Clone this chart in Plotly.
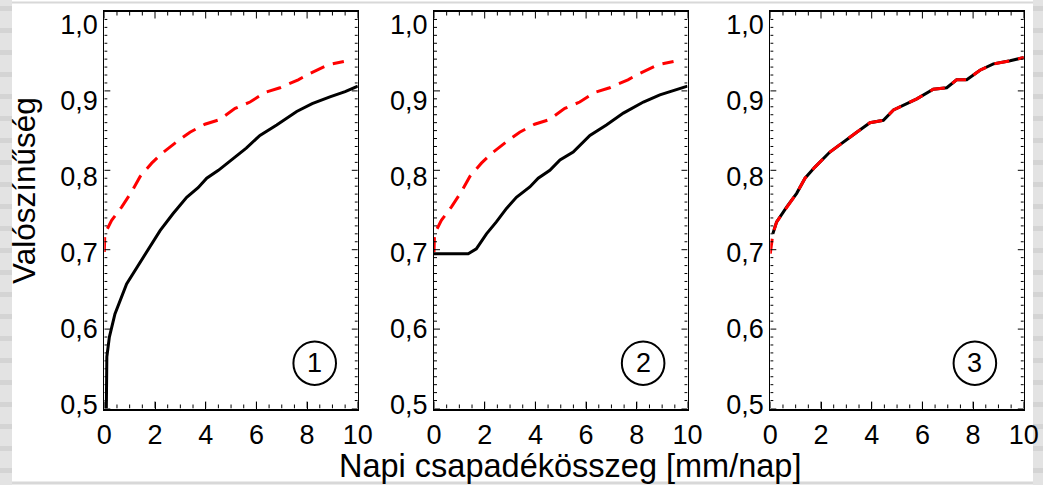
import plotly.graph_objects as go

# ---------------- data ----------------
panel_labels = ["1", "2", "3"]
y_tick_values = [0.5, 0.6, 0.7, 0.8, 0.9, 1.0]

# panel 1 - black solid
x1_black = [0.08, 0.1, 0.2, 0.42, 0.88, 1.54, 2.2, 2.7, 3.25, 3.7, 4.04, 4.5, 5.09, 5.6,
            6.14, 6.8, 7.59, 8.2, 8.9, 9.5, 10.0]
y1_black = [0.50, 0.565, 0.59, 0.619, 0.657, 0.691, 0.724, 0.745, 0.766, 0.778, 0.79, 0.80,
            0.815, 0.828, 0.844, 0.857, 0.874, 0.884, 0.8925, 0.899, 0.906]

# panels 1 & 2 - red dashed
x_red = [0.0, 0.02, 0.29, 0.69, 1.08, 1.41, 1.87, 2.26, 2.86, 3.38, 3.97, 4.56, 5.16, 5.75,
         6.34, 6.93, 7.65, 8.11, 8.84, 9.45]
y_red = [0.697, 0.72, 0.737, 0.754, 0.773, 0.792, 0.809, 0.821, 0.836, 0.848, 0.858, 0.864,
         0.878, 0.886, 0.898, 0.904, 0.914, 0.922, 0.933, 0.937]

# panel 2 - black solid
x2_black = [0.0, 1.35, 1.67, 2.07, 2.46, 2.86, 3.25, 3.78, 4.11, 4.57, 4.97, 5.49, 6.15, 6.8,
            7.47, 8.26, 8.91, 10.0]
y2_black = [0.695, 0.695, 0.701, 0.72, 0.735, 0.752, 0.766, 0.779, 0.79, 0.80, 0.813, 0.823,
            0.844, 0.857, 0.872, 0.886, 0.895, 0.906]

# panel 3 - black solid and red dashed (overlapping)
x3_black = [0.1, 0.25, 0.65, 1.04, 1.37, 1.76, 2.35, 2.88, 3.41, 3.93, 4.46, 4.86, 5.78, 6.43,
            6.96, 7.35, 7.75, 8.27, 8.8, 9.46, 10.0]
y3_black = [0.72, 0.735, 0.754, 0.771, 0.79, 0.804, 0.823, 0.836, 0.848, 0.86, 0.863, 0.876,
            0.89, 0.902, 0.904, 0.914, 0.914, 0.926, 0.934, 0.938, 0.942]
x3_red = [0.0] + x3_black
y3_red = [0.695] + y3_black

circle_x = [8.3, 8.25, 8.07]
circle_y = [0.557, 0.557, 0.557]

x_title = "Napi csapadékösszeg [mm/nap]"
y_title = "Valószínűség"

# ---------------- figure ----------------
W, H = 1043, 485
FONT = "Liberation Sans, Arial, sans-serif"
TICKFONT = dict(family=FONT, size=27, color="black")

fig = go.Figure()

black_line = dict(color="black", width=3)
red_line = dict(color="#ff0000", width=3, dash="15px,9px")

series = [
    (x1_black, y1_black, black_line, 0), (x_red, y_red, red_line, 0),
    (x2_black, y2_black, black_line, 1), (x_red, y_red, red_line, 1),
    (x3_black, y3_black, black_line, 2), (x3_red, y3_red, red_line, 2),
]
for xs, ys, ln, p in series:
    sfx = "" if p == 0 else str(p + 1)
    fig.add_trace(go.Scatter(x=xs, y=ys, mode="lines", line=ln,
                             xaxis="x" + sfx, yaxis="y" + sfx, showlegend=False))

x_domains_px = [(104.3, 357.8), (434.0, 687.5), (770.3, 1023.8)]
y_domain = [(H - 408.5) / H, (H - 11.5) / H]
X_RANGE = [0, 10]
Y_RANGE = [0.5, 1.0]
# the y tick labels of the original sit slightly off their ticks
LABEL_LO, LABEL_HI = 0.5044, 0.983
label_pos = [LABEL_LO + (v - Y_RANGE[0]) * (LABEL_HI - LABEL_LO) / (Y_RANGE[1] - Y_RANGE[0])
             for v in y_tick_values]
label_txt = [("%.1f" % v).replace(".", ",") for v in y_tick_values]

layout = dict(
    template="none",
    width=W, height=H,
    margin=dict(l=0, r=0, t=0, b=0, pad=0),
    paper_bgcolor="white", plot_bgcolor="rgba(0,0,0,0)",
    separators=",.",
    font=dict(family=FONT, size=26, color="black"),
    showlegend=False,
)

for i, (a, b) in enumerate(x_domains_px):
    sfx = "" if i == 0 else str(i + 1)
    layout["xaxis" + sfx] = dict(
        domain=[a / W, b / W], range=X_RANGE, anchor="y" + sfx,
        tickmode="linear", tick0=0, dtick=2,
        ticks="inside", ticklen=7, tickwidth=1, tickcolor="black",
        showline=True, linecolor="black", linewidth=1.5, mirror=True,
        showgrid=False, zeroline=False, fixedrange=True, automargin=False,
        ticklabeloverflow="allow", layer="above traces",
        tickfont=TICKFONT, ticklabelstandoff=1,
    )
    layout["yaxis" + sfx] = dict(
        domain=y_domain, range=Y_RANGE, anchor="x" + sfx,
        tickmode="array", tickvals=label_pos, ticktext=label_txt, ticks="",
        showline=True, linecolor="black", linewidth=1, mirror=True,
        showgrid=False, zeroline=False, fixedrange=True, automargin=False,
        ticklabeloverflow="allow", layer="above traces",
        tickfont=TICKFONT, ticklabelstandoff=0,
    )

fig.update_layout(**layout)

shapes = []
annotations = []

# inward-pointing tick marks on all four sides of each panel
x_tick_pos = [X_RANGE[0] + k * 0.5 for k in range(21)]
y_tick_pos = [Y_RANGE[0] + k * 0.01 for k in range(51)]
tick_line = dict(color="black", width=1)
for i in range(3):
    sfx = "" if i == 0 else str(i + 1)
    for k, v in enumerate(x_tick_pos):
        L = 7 if k % 4 == 0 else 4
        for anchor, sign in [(Y_RANGE[0], 1), (Y_RANGE[1], -1)]:
            shapes.append(dict(type="line", xref="x" + sfx, yref="y" + sfx,
                               x0=v, x1=v, ysizemode="pixel", yanchor=anchor,
                               y0=0, y1=sign * L, line=tick_line))
    for k, v in enumerate(y_tick_pos):
        L = 6 if k % 10 == 0 else 3
        for anchor, sign in [(X_RANGE[0], 1), (X_RANGE[1], -1)]:
            shapes.append(dict(type="line", xref="x" + sfx, yref="y" + sfx,
                               y0=v, y1=v, xsizemode="pixel", xanchor=anchor,
                               x0=0, x1=sign * L, line=tick_line))

rx, ry = 0.84, 0.0273
for i, lab in enumerate(panel_labels):
    sfx = "" if i == 0 else str(i + 1)
    cx, cy = circle_x[i], circle_y[i]
    shapes.append(dict(type="circle", xref="x" + sfx, yref="y" + sfx,
                       x0=cx - rx, x1=cx + rx, y0=cy - ry, y1=cy + ry,
                       line=dict(color="black", width=2)))
    annotations.append(dict(x=cx, y=cy, xref="x" + sfx, yref="y" + sfx, text=lab,
                            showarrow=False, font=dict(family=FONT, size=27, color="black"),
                            xanchor="center", yanchor="middle"))

# background decoration (page frame)
shapes.append(dict(type="rect", xref="paper", yref="paper", x0=0, x1=12 / W, y0=0, y1=1,
                   fillcolor="#e3e3e3", line=dict(width=0), layer="below"))
shapes.append(dict(type="rect", xref="paper", yref="paper", x0=1033 / W, x1=1, y0=0, y1=1,
                   fillcolor="#e3e3e3", line=dict(width=0), layer="below"))
yy = 6
while yy < H:
    for (xa_, xb_) in [(0, 12), (1033, W)]:
        shapes.append(dict(type="rect", xref="paper", yref="paper",
                           x0=xa_ / W, x1=xb_ / W, y0=1 - (yy + 5) / H, y1=1 - yy / H,
                           fillcolor="#d4d4d4", line=dict(width=0), layer="below"))
    yy += 22
shapes.append(dict(type="line", xref="paper", yref="paper", x0=12 / W, x1=1033 / W,
                   y0=1 - 2.5 / H, y1=1 - 2.5 / H, line=dict(color="#d8d8d8", width=2),
                   layer="below"))
shapes.append(dict(type="line", xref="paper", yref="paper", x0=12 / W, x1=1033 / W,
                   y0=1 - 483 / H, y1=1 - 483 / H, line=dict(color="#d8d8d8", width=3),
                   layer="below"))

annotations.append(dict(x=570 / W, y=1 - 466 / H, xref="paper", yref="paper", text=x_title,
                        showarrow=False, font=dict(family=FONT, size=32.5, color="black"),
                        xanchor="center", yanchor="middle"))
annotations.append(dict(x=24 / W, y=1 - 191 / H, xref="paper", yref="paper", text=y_title,
                        showarrow=False, textangle=-90,
                        font=dict(family=FONT, size=31.5, color="black"),
                        xanchor="center", yanchor="middle"))

fig.update_layout(shapes=shapes, annotations=annotations)

fig.write_html("out.html", config={"displayModeBar": False},
               post_script="document.body.style.margin='0';")
